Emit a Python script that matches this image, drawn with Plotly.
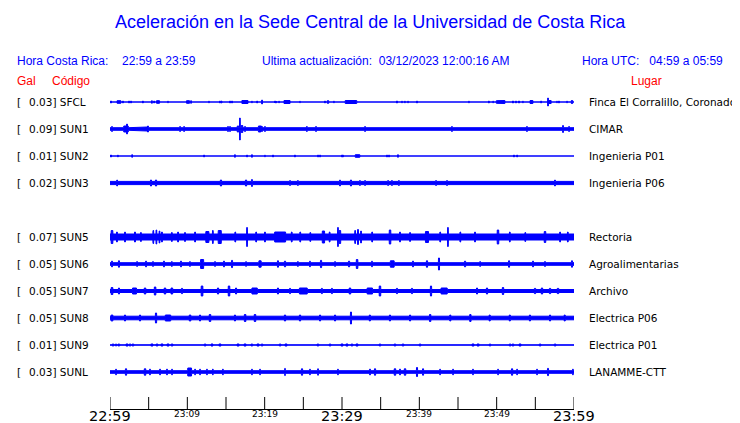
import numpy as np
import plotly.graph_objects as go

# ---------------- data ----------------
codes = ["SFCL", "SUN1", "SUN2", "SUN3", "SUN5", "SUN6", "SUN7", "SUN8", "SUN9", "SUNL"]
gal = ["0.03", "0.09", "0.01", "0.02", "0.07", "0.05", "0.05", "0.05", "0.01", "0.03"]
places = ["Finca El Corralillo, Coronado", "CIMAR", "Ingenieria P01", "Ingenieria P06",
          "Rectoria", "Agroalimentarias", "Archivo", "Electrica P06", "Electrica P01", "LANAMME-CTT"]
rows = [0, 1, 2, 3, 5, 6, 7, 8, 9, 10]
# background (noise) half-amplitude of each trace, relative units
base = [0.0, 1.3, 0.0, 1.6, 3.0, 1.3, 1.5, 1.8, 0.2, 1.3]

# bursts: minutes after 22:59, half-amplitude, duration (minutes)
t_SFCL = [0.13, 1.16, 1.68, 2.46, 2.72, 4.27, 5.43, 5.69, 6.21, 7.50, 10.09, 10.47, 12.80, 14.22, 14.42,
          15.52, 15.78, 17.45, 18.36, 19.01, 19.66, 21.34, 21.47, 21.85, 22.89, 24.57, 27.80, 28.19, 28.97,
          31.16, 37.11, 37.76, 38.15, 38.54, 39.70, 46.42, 48.99, 49.53, 50.04, 50.56, 52.11, 52.50, 52.89,
          53.41, 54.50, 55.74, 56.64, 56.90, 57.80, 58.06, 59.10, 59.74]
a_SFCL = [1, 1.3, 1, 1, 1, 1, 1.3, 1, 1.3, 0.8, 1.3, 1.3, 0.8, 1, 1,
          1, 1, 1.5, 0.8, 1, 2, 1, 1, 0.8, 1.5, 0.8, 1, 1.3, 0.8,
          1.5, 1, 0.8, 0.8, 0.8, 1, 0.8, 1, 0.8, 1.3, 1.5, 1, 1, 1,
          0.8, 1.5, 1, 4, 1.5, 0.8, 1, 0.8, 1.5]
d_SFCL = [0.1, 0.5, 0.1, 0.1, 0.1, 0.1, 0.1, 0.1, 0.4, 0.1, 0.4, 0.1, 0.1, 0.1, 0.1,
          0.1, 0.1, 0.8, 0.1, 0.1, 0.1, 0.1, 0.1, 0.1, 0.8, 0.1, 0.1, 0.2, 0.1,
          1.5, 0.1, 0.1, 0.1, 0.1, 0.1, 0.1, 0.1, 0.1, 0.2, 1.0, 0.1, 0.1, 0.1,
          0.1, 0.4, 0.1, 0.1, 0.3, 0.1, 0.1, 0.1, 0.2]

t_SUN1 = [0.26, 2.07, 2.20, 4.50, 4.91, 9.05, 9.57, 15.26, 15.52, 16.55, 16.81, 17.07, 17.46, 19.40,
          19.66, 20.04, 25.47, 26.64, 32.10, 32.98, 44.23, 53.92, 58.58, 59.36]
a_SUN1 = [2.5, 3, 5, 2, 3, 2.5, 2.5, 2.5, 2.5, 3, 11, 3.5, 2.5, 3,
          2.5, 2.5, 2.5, 2.5, 2, 2.5, 2.5, 2.5, 3.5, 2.5]
d_SUN1 = [0.1, 0.6, 0.1, 0.9, 0.1, 0.1, 0.1, 0.1, 0.1, 0.2, 0.1, 0.2, 0.1, 0.4,
          0.1, 0.1, 0.1, 0.1, 1.5, 0.1, 0.1, 0.1, 0.1, 0.1]

t_SUN2 = [0.13, 1.03, 2.85, 12.16, 16.16, 17.72, 18.36, 20.04, 21.08, 23.92, 26.90, 27.16, 30.00,
          30.13, 32.00, 35.82, 36.08, 37.24, 52.24, 52.63]
a_SUN2 = [1, 1, 1.3, 1, 1.3, 1, 1.3, 0.8, 1, 1, 1, 1, 1,
          1, 1.3, 1, 1, 1.3, 1, 1]
d_SUN2 = [0.1, 0.1, 0.1, 0.1, 0.1, 0.1, 0.1, 0.1, 0.1, 0.1, 0.1, 0.1, 0.1,
          0.1, 0.6, 0.1, 0.1, 0.1, 0.1, 0.1]

t_SUN3 = [0.91, 5.30, 5.95, 14.35, 17.59, 18.36, 23.28, 24.31, 29.74, 31.16, 32.33, 32.98, 35.95,
          36.47, 37.37, 42.16, 43.58, 47.98, 57.55]
a_SUN3 = [3, 3, 3, 3, 3, 3.5, 2.5, 2.5, 3, 3, 2.5, 2.5, 2.5,
          2.5, 2.5, 2.5, 2.5, 2, 3]
d_SUN3 = [0.1, 0.15, 0.15, 0.15, 0.15, 0.1, 0.1, 0.1, 0.1, 0.15, 0.1, 0.1, 0.1,
          0.1, 0.1, 0.1, 0.1, 0.1, 0.1]

t_SUN5 = [0.26, 0.90, 1.94, 3.23, 4.00, 5.60, 6.00, 6.40, 6.72, 8.00, 8.80, 9.70, 11.00, 12.60, 13.30,
          14.20, 16.20, 17.72, 18.90, 20.04, 22.00, 23.50, 24.60, 25.90, 27.60, 28.40, 29.48, 29.74,
          31.70, 32.07, 32.45, 33.90, 36.21, 37.50, 38.80, 40.99, 42.70, 43.70, 45.30, 47.20, 50.17,
          51.70, 53.70, 56.25, 58.20, 59.20]
a_SUN5 = [6.5, 5, 5, 5, 4.5, 6.5, 7, 6, 5, 4.5, 5, 4.5, 5, 5.5, 6.5,
          6.5, 5, 9.5, 5, 5, 5, 5, 5, 4.5, 6, 5, 9.5, 6.5,
          6.5, 7.5, 6, 5, 7, 5, 4.5, 5.5, 5, 9.5, 5, 5, 7,
          5, 4.5, 5.5, 5, 5]
d_SUN5 = [0.2, 0.1, 0.1, 0.1, 0.1, 0.1, 0.1, 0.1, 0.1, 0.1, 0.1, 0.1, 0.1, 0.4, 0.1,
          0.4, 0.1, 0.1, 0.1, 0.1, 1.4, 0.1, 0.1, 0.1, 0.3, 0.1, 0.1, 0.2,
          0.1, 0.1, 0.1, 0.1, 0.2, 0.1, 0.1, 0.4, 0.1, 0.1, 0.1, 0.1, 0.2,
          0.1, 0.1, 0.2, 0.1, 0.1]

t_SUN6 = [0.26, 1.16, 3.50, 4.66, 5.56, 6.98, 8.00, 9.18, 10.35, 11.90, 13.58, 14.74, 15.78, 17.59,
          19.40, 21.72, 22.63, 24.31, 25.86, 27.29, 29.10, 30.91, 31.94, 33.88, 36.50, 39.18, 40.99,
          42.54, 45.91, 47.85, 51.60, 54.70, 56.25, 59.74]
a_SUN6 = [2.8, 3.2, 2.4, 2.8, 2.4, 2.8, 2.4, 2.8, 2.4, 4.5, 2.4, 2.8, 3.6, 2.4,
          3.2, 3.2, 2.8, 2.4, 2.8, 3.6, 2.4, 2.8, 4.5, 2.8, 3.2, 2.8, 3.2,
          6, 2.8, 2.4, 3.2, 2.8, 2.4, 3.2]
d_SUN6 = [0.15, 0.15, 0.1, 0.15, 0.1, 0.15, 0.1, 0.15, 0.1, 0.4, 0.1, 0.15, 0.15, 0.1,
          0.3, 0.15, 0.15, 0.1, 0.1, 0.15, 0.1, 0.15, 0.2, 0.1, 0.5, 0.15, 0.15,
          0.15, 0.15, 0.1, 0.15, 0.15, 0.1, 0.15]

t_SUN7 = [0.26, 1.16, 3.17, 4.53, 5.82, 7.11, 8.00, 9.31, 11.90, 13.97, 15.39, 16.30, 18.70, 21.72,
          23.28, 25.00, 27.40, 28.70, 31.04, 33.60, 34.91, 37.11, 39.05, 41.51, 43.20, 47.46, 48.75,
          50.82, 54.96, 55.86, 56.90, 57.93]
a_SUN7 = [3.5, 3, 3, 3, 4, 3, 3, 2.6, 5, 3, 5, 3, 3, 3,
          2.6, 3, 2.6, 2.6, 3, 3, 5, 2.6, 2.6, 5, 3, 3, 3,
          3.5, 2.6, 3, 2.6, 2.6]
d_SUN7 = [0.2, 0.15, 0.5, 0.2, 0.2, 0.2, 0.2, 0.15, 0.2, 0.15, 0.2, 0.15, 0.7, 0.15,
          0.15, 1.0, 0.15, 0.15, 0.2, 0.7, 0.2, 0.15, 0.15, 0.15, 0.8, 0.15, 0.15,
          0.2, 0.2, 0.2, 0.2, 0.2]

t_SUN8 = [0.26, 1.94, 3.88, 5.95, 7.50, 10.35, 11.64, 12.93, 16.16, 17.46, 18.75, 22.63, 24.57, 27.16,
          29.10, 31.16, 33.60, 36.20, 38.80, 41.40, 44.00, 46.60, 49.10, 51.70, 54.30, 56.90, 58.80]
a_SUN8 = [3, 3, 3, 5, 3, 3, 3, 3.5, 3, 3.5, 3.5, 3, 3, 3,
          3, 6, 3, 3, 3, 3.5, 3, 3.5, 3, 3, 3, 3, 3]
d_SUN8 = [0.2, 0.15, 0.15, 0.15, 0.7, 0.2, 0.15, 0.2, 0.15, 0.2, 0.2, 0.15, 0.15, 0.15,
          0.15, 0.15, 0.15, 0.15, 0.15, 0.2, 0.15, 0.2, 0.15, 0.15, 0.15, 0.15, 0.15]

t_SUN9 = [0.39, 0.78, 1.16, 2.20, 2.59, 2.97, 5.43, 6.08, 6.72, 7.50, 8.02, 11.38, 12.29, 13.19, 14.22,
          16.55, 17.46, 18.36, 19.14, 19.66, 21.98, 22.76, 25.86, 26.90, 28.45, 30.00, 30.65, 31.29,
          31.94, 34.27, 34.91, 36.85, 37.89, 39.05, 40.09, 42.67, 46.94, 47.59, 49.14, 51.73, 52.11,
          53.02, 55.61, 57.55, 59.49]
a_SUN9 = [1, 1, 1, 1, 1, 1, 1, 1, 1, 1, 1, 0.7, 1, 1, 1,
          1, 1, 1, 1, 1, 1, 1, 0.7, 1, 1, 1, 1, 1,
          1, 0.7, 1, 1, 1, 0.7, 1, 0.7, 1, 1, 1, 1, 1,
          1, 1, 1, 0.7]
d_SUN9 = [0.2, 0.15, 0.2, 0.3, 0.2, 0.2, 0.3, 0.2, 0.3, 0.3, 0.2, 0.1, 0.2, 0.3, 0.3,
          0.3, 0.3, 0.2, 0.3, 0.2, 0.2, 0.3, 0.1, 0.2, 0.2, 0.3, 0.3, 0.2,
          0.3, 0.2, 0.2, 0.2, 0.2, 0.1, 0.2, 0.1, 0.3, 0.3, 0.2, 0.2, 0.2,
          0.3, 0.2, 0.2, 0.1]

t_SUNL = [0.78, 2.07, 4.53, 5.17, 6.47, 7.37, 8.02, 10.30, 11.00, 11.64, 12.54, 13.30, 14.60, 18.36,
          19.40, 22.63, 24.83, 25.86, 26.90, 29.48, 33.62, 34.27, 36.85, 37.50, 38.15, 39.70, 40.48,
          42.67, 44.35, 46.94, 50.17, 51.99, 52.63, 55.22, 56.64, 59.87]
a_SUNL = [2.8, 3.2, 3.2, 2.8, 2.8, 2.8, 2.8, 4, 2.8, 2.8, 2.8, 2.8, 2.8, 2.8,
          2.8, 3.6, 3.2, 2.8, 3.2, 2.8, 2.8, 3.2, 3.2, 2.8, 3.2, 4.5, 3.2,
          2.8, 2.8, 2.8, 2.8, 3.2, 2.8, 2.8, 3.6, 2.8]
d_SUNL = [0.1, 0.15, 0.2, 0.1, 0.1, 0.1, 0.1, 0.5, 0.1, 0.1, 0.1, 0.1, 0.1, 0.1,
          0.1, 0.1, 0.15, 0.1, 0.1, 0.1, 0.15, 0.15, 0.2, 0.15, 0.2, 0.15, 0.15,
          0.1, 0.1, 0.1, 0.1, 0.15, 0.1, 0.1, 0.15, 0.1]

bursts = {
    "SFCL": (t_SFCL, a_SFCL, d_SFCL), "SUN1": (t_SUN1, a_SUN1, d_SUN1),
    "SUN2": (t_SUN2, a_SUN2, d_SUN2), "SUN3": (t_SUN3, a_SUN3, d_SUN3),
    "SUN5": (t_SUN5, a_SUN5, d_SUN5), "SUN6": (t_SUN6, a_SUN6, d_SUN6),
    "SUN7": (t_SUN7, a_SUN7, d_SUN7), "SUN8": (t_SUN8, a_SUN8, d_SUN8),
    "SUN9": (t_SUN9, a_SUN9, d_SUN9), "SUNL": (t_SUNL, a_SUNL, d_SUNL),
}

tick_minutes = list(range(0, 61, 5))
label_minutes = [0, 10, 20, 30, 40, 50, 60]
label_text = ["22:59", "23:09", "23:19", "23:29", "23:39", "23:49", "23:59"]
label_major = [True, False, False, True, False, False, True]

# ---------------- layout geometry ----------------
PAGE_W, PAGE_H = 740, 423
OFF = 8                                  # default page body margin
W, H = PAGE_W - OFF, PAGE_H - OFF
L, R, T, B = 110, 574, 88, 409           # plot area in page pixels
SLOT = 27                                # pixel spacing between rows
ROW0 = 102                               # page pixel y of first row
TICKLEN = 12


def px(x):
    return (x - L) / (R - L)


def py(y):
    return (B - y) / (B - T)


fig = go.Figure()

grid = np.round(np.arange(0, 60.0001, 0.02), 4)
for i, code in enumerate(codes):
    env = np.full(grid.shape, base[i])
    ts, amps, durs = bursts[code]
    for t, a, d in zip(ts, amps, durs):
        m = np.abs(grid - t) <= max(d / 2, 0.04)
        env[m] = np.maximum(env[m], a)
    yc = -rows[i] * SLOT
    xs = np.concatenate([grid, grid[::-1]])
    ys = np.concatenate([yc + env, (yc - env)[::-1]])
    fig.add_trace(go.Scatter(
        x=xs, y=ys, mode="lines", fill="toself", fillcolor="#0000ff",
        line=dict(color="#0000ff", width=1), hoverinfo="skip", showlegend=False))

annotations = []
lab_font = dict(family="DejaVu Sans", size=10.5, color="black")
for i, code in enumerate(codes):
    yc = -rows[i] * SLOT
    annotations.append(dict(x=px(15), xref="paper", y=yc, yref="y", text="[",
                            xanchor="left", yanchor="middle", showarrow=False, font=lab_font))
    annotations.append(dict(x=px(27), xref="paper", y=yc, yref="y", text=f"{gal[i]}] {code}",
                            xanchor="left", yanchor="middle", showarrow=False, font=lab_font))
    annotations.append(dict(x=px(587), xref="paper", y=yc, yref="y", text=places[i],
                            xanchor="left", yanchor="middle", showarrow=False, font=lab_font))

blue = "#0000ff"
red = "#ff0000"
hdr = dict(family="Liberation Sans, Arial", size=12, color=blue)
annotations += [
    dict(x=px(370), y=py(22), text="Aceleración en la Sede Central de la Universidad de Costa Rica",
         font=dict(family="Liberation Sans, Arial", size=18, color=blue), xanchor="center"),
    dict(x=px(15), y=py(61), text="Hora Costa Rica:", font=hdr, xanchor="left"),
    dict(x=px(120), y=py(61), text="22:59 a 23:59", font=hdr, xanchor="left"),
    dict(x=px(260), y=py(61), text="Ultima actualización:  03/12/2023 12:00:16 AM", font=hdr, xanchor="left"),
    dict(x=px(580), y=py(61), text="Hora UTC:   04:59 a 05:59", font=hdr, xanchor="left"),
    dict(x=px(15), y=py(81), text="Gal", font=dict(hdr, color=red), xanchor="left"),
    dict(x=px(50), y=py(81), text="Código", font=dict(hdr, color=red), xanchor="left"),
    dict(x=px(646), y=py(81), text="Lugar", font=dict(hdr, color=red), xanchor="center"),
]
for a in annotations[-8:]:
    a.update(xref="paper", yref="paper", yanchor="middle", showarrow=False)

for m, txt, major in zip(label_minutes, label_text, label_major):
    annotations.append(dict(
        x=m, xref="x", y=py(416 if major else 414), yref="paper", text=txt, showarrow=False,
        xanchor="center", yanchor="middle",
        font=dict(family="DejaVu Sans", size=14.5 if major else 9, color="black")))

# time-axis ticks (drawn upward from the axis line)
shapes = [dict(type="line", xref="x", yref="paper", x0=m, x1=m, y0=0, y1=TICKLEN / (B - T),
               line=dict(color="black", width=1)) for m in tick_minutes]

fig.update_layout(
    width=W, height=H,
    margin=dict(l=L - OFF, r=PAGE_W - R, t=T - OFF, b=PAGE_H - B, autoexpand=False),
    paper_bgcolor="white", plot_bgcolor="white",
    showlegend=False,
    annotations=annotations,
    shapes=shapes,
    xaxis=dict(range=[0, 60], showticklabels=False, ticks="", showline=True, linecolor="black",
               linewidth=1, showgrid=False, zeroline=False, fixedrange=True),
    yaxis=dict(range=[-(B - ROW0), ROW0 - T], visible=False, showgrid=False, zeroline=False,
               fixedrange=True),
)

fig.write_html("out.html", config={"displayModeBar": False})
